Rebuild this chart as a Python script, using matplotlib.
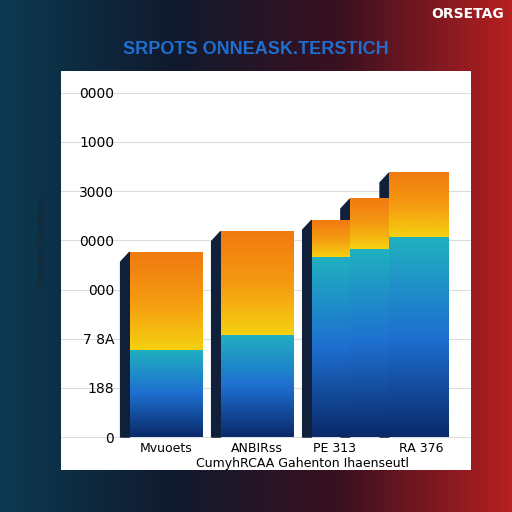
import numpy as np
import matplotlib
matplotlib.use("Agg")
import matplotlib.pyplot as plt
from matplotlib.colors import LinearSegmentedColormap

categories = ["Mvuoets", "ANBIRss", "PE 313", "RA 376"]
bottom_vals = [1.78, 2.08, 3.67, 3.82, 4.06]
top_vals = [1.98, 2.10, 0.74, 1.02, 1.31]
tick_labels = ["0", "188", "7 8A", "000", "0000", "3000", "1000", "0000"]
lefts = [0.0, 1.0, 2.0, 2.42, 2.85]
widths = [0.8, 0.8, 0.42, 0.43, 0.65]

fig = plt.figure(figsize=(5.12, 5.12), dpi=100)
bg = fig.add_axes([0, 0, 1, 1])
grad = np.linspace(0, 1, 256)[None, :] * np.ones((256, 1))
bgcmap = LinearSegmentedColormap.from_list("bg", ["#0b3a52", "#101a2e", "#3a1020", "#b52020"])
bg.imshow(grad, cmap=bgcmap, aspect="auto", extent=[0, 1, 0, 1])
bg.set_axis_off()
fig.text(0.5, 0.895, "SRPOTS ONNEASK.TERSTICH", color="#1e6fd0", fontsize=13,
         fontweight="bold", ha="center", family="Liberation Sans")
fig.text(0.985, 0.965, "ORSETAG", color="white", fontsize=10, fontweight="bold", ha="right")
fig.text(0.075, 0.53, "Srocaoss (Snsdlhase)", color="#222", fontsize=6, rotation=90, va="center")

ax = fig.add_axes([0.12, 0.082, 0.8, 0.78])
ax.set_facecolor("white")
ax.set_xlim(-0.75, 3.75)
ax.set_ylim(-0.67, 7.45)
ax.set_yticks(range(len(tick_labels)))
ax.set_yticklabels(tick_labels, fontsize=10)
ax.tick_params(axis="y", pad=-38, length=0)
ax.tick_params(axis="x", length=0)
ax.set_xticks([])
for x, c in zip([0.4, 1.4, 2.25, 3.2], categories):
    ax.text(x, -0.3, c, ha="center", fontsize=9, zorder=5)
ax.text(1.9, -0.6, "CumyhRCAA Gahenton Ihaenseutl", ha="center", fontsize=9, zorder=5)
ax.grid(True, color="#dddddd")
ax.set_axisbelow(True)
for s in ax.spines.values():
    s.set_visible(False)

cb = LinearSegmentedColormap.from_list("b", ["#0a2a6a", "#1e6fd0", "#20b0c0"])
ct = LinearSegmentedColormap.from_list("t", ["#f5d010", "#f59a10", "#f07a10"])
g = np.linspace(0, 1, 100)[:, None]
for l, w, b, t in zip(lefts, widths, bottom_vals, top_vals):
    ax.imshow(g, cmap=cb, aspect="auto", extent=[l, l + w, 0, b], origin="lower", zorder=3)
    ax.imshow(g, cmap=ct, aspect="auto", extent=[l, l + w, b, b + t], origin="lower", zorder=3)
    ax.fill([l - 0.1, l, l, l - 0.1], [0, 0, b + t, b + t - 0.2], color="#10203a", zorder=2)
fig.savefig("out.png", dpi=100)
